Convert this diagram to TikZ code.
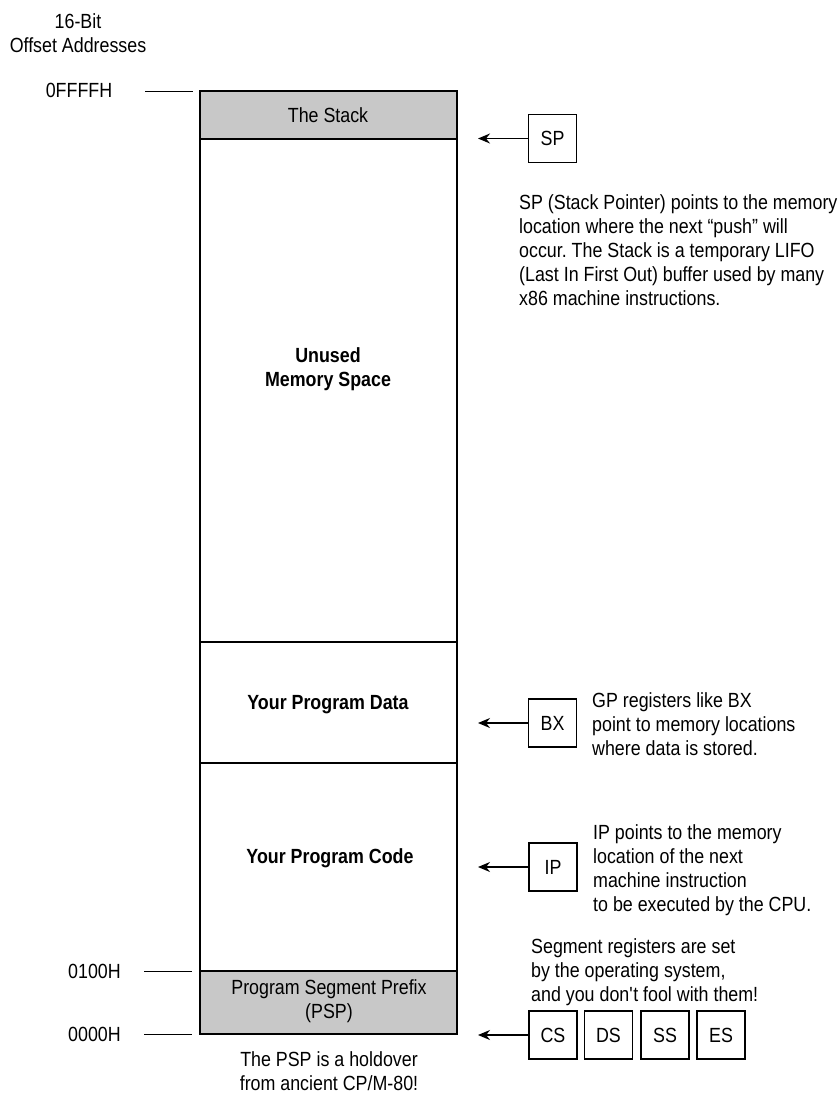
\documentclass[tikz,border=0pt]{standalone}
\usepackage{fontspec}
\setmainfont{Liberation Sans}[FakeStretch=0.87]
\usetikzlibrary{arrows.meta}
\definecolor{memgray}{RGB}{200,200,200}
\tikzset{
  txt/.style={font=\fontsize{20.5}{24}\selectfont, inner sep=0pt},
  btxt/.style={font=\fontsize{20.5}{24}\selectfont\bfseries, inner sep=0pt, align=center},
  seg/.style={draw, line width=1.5pt},
  graysegm/.style={seg, fill=memgray},
  reg/.style={draw, line width=1.4pt, minimum width=48pt, minimum height=48pt, inner sep=0pt, font=\fontsize{20.5}{24}\selectfont},
  ptr/.style={line width=1.5pt, -{Stealth[length=12pt,width=10pt]}},
  tick/.style={line width=1pt},
}
\frenchspacing
\begin{document}
\begin{tikzpicture}[x=1pt,y=-1pt]
\useasboundingbox (0,0) rectangle (838,1093);
% memory column
\draw[graysegm] (200,91) rectangle (457,139);
\draw[seg] (200,139) rectangle (457,642);
\draw[seg] (200,642) rectangle (457,763);
\draw[seg] (200,763) rectangle (457,971);
\draw[graysegm] (200,971) rectangle (457,1034);
\node[txt] (stack) at (328,115) {The Stack};
\node[btxt] (unused) at (328,369) {Unused\\Memory Space};
\node[btxt] (data) at (328,705) {Your Program Data};
\node[btxt] (code) at (330,858) {Your Program Code};
\node[txt, align=center] (psp) at (329,1001) {Program Segment Prefix\\(PSP)};
\node[txt, align=center] (hold) at (329,1071) {The PSP is a holdover\\from ancient CP/M-80!};
% address labels
\node[txt, align=center] (hdr) at (78,33) {16-Bit\\Offset Addresses};
\node[txt] (aF) at (79,90) {0FFFFH};
\node[txt] (a1) at (94.5,971) {0100H};
\node[txt] (a0) at (94.5,1034) {0000H};
\coordinate (tF1) at (145,91); \coordinate (tF2) at (193,91);
\coordinate (t11) at (144,971); \coordinate (t12) at (192,971);
\coordinate (t01) at (144,1034); \coordinate (t02) at (192,1034);
\draw[tick] (tF1) -- (tF2);
\draw[tick] (t11) -- (t12);
\draw[tick] (t01) -- (t02);
% registers
\node[reg] (sp) at (552.5,138.5) {SP};
\node[reg] (bx) at (552.5,723) {BX};
\node[reg] (ip) at (553,867) {IP};
\node[reg] (cs) at (553,1035) {CS};
\node[reg] (ds) at (608.5,1035) {DS};
\node[reg] (ss) at (665,1035) {SS};
\node[reg] (es) at (721,1035) {ES};
\coordinate (spT) at (478,138.5);
\coordinate (bxT) at (478,723);
\coordinate (ipT) at (478,867);
\coordinate (csT) at (478,1035);
\draw[ptr] (sp.west) -- (spT);
\draw[ptr] (bx.west) -- (bxT);
\draw[ptr] (ip.west) -- (ipT);
\draw[ptr] (cs.west) -- (csT);
% notes
\node[txt, anchor=west, align=left] (spnote) at (519,250) {SP (Stack Pointer) points to the memory\\location where the next “push” will\\occur. The Stack is a temporary LIFO\\(Last In First Out) buffer used by many\\x86 machine instructions.};
\node[txt, anchor=west, align=left] (bxnote) at (592,724) {GP registers like BX\\point to memory locations\\where data is stored.};
\node[txt, anchor=west, align=left] (ipnote) at (593,870) {IP points to the memory\\location of the next\\machine instruction\\to be executed by the CPU.};
\node[txt, anchor=west, align=left] (segnote) at (531,972) {Segment registers are set\\by the operating system,\\and you don\textquotesingle t fool with them!};
\end{tikzpicture}
\end{document}
